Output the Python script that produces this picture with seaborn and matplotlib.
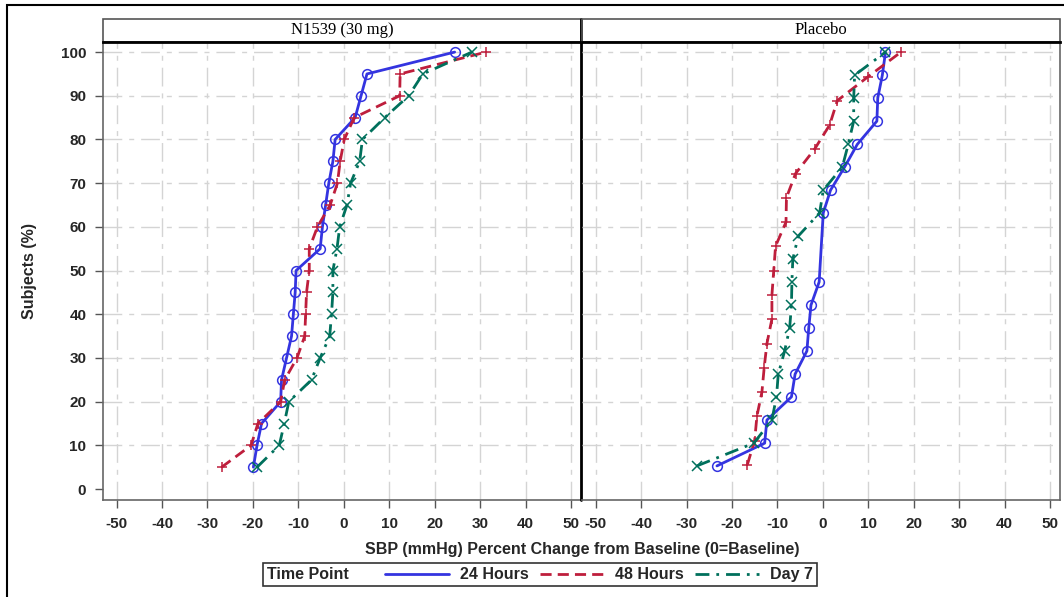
import numpy as np
import pandas as pd
import matplotlib
matplotlib.use("Agg")
import matplotlib.pyplot as plt
from matplotlib.patches import Rectangle
from matplotlib.lines import Line2D
from matplotlib.offsetbox import HPacker
import seaborn as sns

# ---------------- data ----------------
panels = ["N1539 (30 mg)", "Placebo"]
time_points = ["24 Hours", "48 Hours", "Day 7"]

left_y = [5, 10, 15, 20, 25, 30, 35, 40, 45, 50, 55, 60, 65, 70, 75, 80, 85, 90, 95, 100]
left_24h = [-19.9, -19.1, -18.1, -13.9, -13.7, -12.6, -11.5, -11.1, -10.7, -10.5,
            -5.2, -4.7, -4.0, -3.3, -2.4, -1.9, 2.5, 3.8, 5.1, 24.4]
left_48h = [-26.9, -20.4, -18.9, -13.9, -13.0, -10.3, -8.6, -8.4, -8.2, -7.6,
            -7.6, -5.8, -3.0, -1.4, -0.8, 0.1, 2.3, 12.3, 12.4, 31.3]
left_d7 = [-19.1, -14.2, -13.1, -12.1, -7.1, -5.2, -3.1, -2.7, -2.4, -2.4,
           -1.5, -0.9, 0.7, 1.5, 3.5, 4.1, 9.0, 14.3, 17.4, 28.2]

right_24h_y = [5.3, 10.5, 15.8, 21.1, 26.3, 31.6, 36.8, 42.1, 47.4,
               63.2, 68.4, 73.7, 78.9, 84.2, 89.5, 94.7, 100]
right_24h = [-23.3, -12.8, -12.3, -6.9, -6.1, -3.5, -3.1, -2.6, -0.8,
             0.1, 1.7, 4.8, 7.6, 11.9, 12.1, 13.1, 13.8]
right_48h_y = [5.6, 11.1, 16.7, 22.2, 27.8, 33.3, 38.9, 44.4, 50.0,
               55.6, 61.1, 66.7, 72.2, 77.8, 83.3, 88.9, 94.4, 100]
right_48h = [-16.6, -15.0, -14.5, -13.4, -12.9, -12.3, -11.2, -11.2, -10.8,
             -10.4, -8.1, -8.0, -6.0, -1.8, 1.5, 3.2, 10.0, 17.2]
right_d7_y = [5.3, 10.5, 15.8, 21.1, 26.3, 31.6, 36.8, 42.1, 47.4, 52.6,
              57.9, 63.2, 68.4, 73.7, 78.9, 84.2, 89.5, 94.7, 100]
right_d7 = [-27.7, -15.2, -11.2, -10.2, -9.8, -8.4, -7.3, -6.9, -6.8, -6.6,
            -5.4, -0.7, 0.1, 4.3, 5.6, 6.8, 6.8, 7.0, 13.8]

x_ticks = [-50, -40, -30, -20, -10, 0, 10, 20, 30, 40, 50]
y_ticks = [0, 10, 20, 30, 40, 50, 60, 70, 80, 90, 100]

# ---------------- style ----------------
sns.set_theme(style="white")
plt.rcParams["font.family"] = ["Liberation Sans", "DejaVu Sans"]

palette = {"24 Hours": "#3434E0", "48 Hours": "#BE1E3C", "Day 7": "#00705C"}
markers = {"24 Hours": "o", "48 Hours": "+", "Day 7": "x"}
dashes = {"24 Hours": None, "48 Hours": (4, 2.2), "Day 7": (5, 2.5, 1, 2.5)}


def make_df(series):
    frames = []
    for tp, xs, ys in series:
        frames.append(pd.DataFrame({"Change": xs, "Subjects": ys, "Time Point": tp}))
    return pd.concat(frames, ignore_index=True)


df_left = make_df([("24 Hours", left_24h, left_y),
                   ("48 Hours", left_48h, left_y),
                   ("Day 7", left_d7, left_y)])
df_right = make_df([("24 Hours", right_24h, right_24h_y),
                    ("48 Hours", right_48h, right_48h_y),
                    ("Day 7", right_d7, right_d7_y)])

fig = plt.figure(figsize=(10.64, 5.97), dpi=100)
ax_b, ax_h = 0.1625, 0.7671
ax1 = fig.add_axes([0.0968, ax_b, 0.4492, ax_h])
ax2 = fig.add_axes([0.5470, ax_b, 0.4492, ax_h])
ax2.patch.set_alpha(0)

tick_font = dict(family=["Liberation Sans", "DejaVu Sans"], weight="bold", size=11)
grid_kw = dict(color="#D4D4D4", lw=1.0, ls=(0, (13.5, 5, 3.6, 5)), zorder=0)

for ax, df, title in [(ax1, df_left, panels[0]), (ax2, df_right, panels[1])]:
    for tp in time_points:
        sub = df[df["Time Point"] == tp]
        ls = "-" if dashes[tp] is None else (0, dashes[tp])
        sns.lineplot(data=sub, x="Change", y="Subjects", color=palette[tp],
                     marker=markers[tp], linestyle=ls, sort=False, estimator=None,
                     linewidth=2.0, markersize=7, mfc="none", mec=palette[tp],
                     mew=1.1, ax=ax, label=tp, legend=False)
    ax.set_xlim(-53, 52.2)
    ax.set_ylim(-2.5, 102.3)
    ax.set_xticks(x_ticks)
    ax.set_xticklabels([str(v) for v in x_ticks], fontdict=tick_font)
    ax.set_yticks(y_ticks)
    for v in x_ticks:
        ax.axvline(v, **grid_kw)
    for v in y_ticks[1:]:
        ax.axhline(v, **grid_kw)
    ax.set_xlabel("")
    ax.set_ylabel("")
    ax.tick_params(axis="both", direction="out", length=6, width=1, color="#555555",
                   bottom=True, left=(ax is ax1), pad=6)
    for s in ["left", "bottom", "right"]:
        ax.spines[s].set_color("#666666")
        ax.spines[s].set_linewidth(1.2)
    ax.spines["top"].set_color("black")
    ax.spines["top"].set_linewidth(2)
    # header strip
    ax.add_patch(Rectangle((0, 1), 1, 0.0502, transform=ax.transAxes, fill=False,
                           ec="#555555", lw=1.2, clip_on=False))
    ax.text(0.5, 1.026, title, transform=ax.transAxes, ha="center", va="center",
            family=["Liberation Serif", "DejaVu Serif"], fontsize=12, color="black")

ax1.set_yticklabels([str(v) for v in y_ticks], fontdict=tick_font)
ax2.set_yticklabels([])
ax1.spines["right"].set_visible(False)
ax2.spines["left"].set_visible(False)
# divider between panels, through header
ax1.plot([1.001, 1.001], [0, 1.0502], transform=ax1.transAxes, color="black", lw=2,
         clip_on=False, zorder=10)

fig.text(0.028, 0.546, "Subjects (%)", rotation=90, ha="center", va="center",
         fontsize=11.5, fontweight="bold")
fig.text(0.547, 0.079, "SBP (mmHg) Percent Change from Baseline (0=Baseline)",
         ha="center", va="center", fontsize=11.5, fontweight="bold")

# outer frame
fig.patches.append(Rectangle((7 / 1064, -0.2), 1.3, 1.2 - 5 / 597, transform=fig.transFigure,
                             fill=False, ec="black", lw=1.5))

handles = [Line2D([], [], color=palette[tp], lw=2,
                  ls="-" if dashes[tp] is None else (0, dashes[tp])) for tp in time_points]
leg = fig.legend(handles, time_points, loc="center", bbox_to_anchor=(0.5075, 0.037),
                 ncol=3, title="Time Point", frameon=True, fancybox=False,
                 edgecolor="black", handlelength=4.0, handletextpad=0.7,
                 columnspacing=0.7, borderpad=0.25, prop=dict(weight="bold", size=11.5))
leg.get_frame().set_linewidth(1.2)
leg.get_title().set_fontweight("bold")
leg.get_title().set_fontsize(11.5)
try:
    box = leg._legend_box
    box.__class__ = HPacker
    box.align = "center"
    box.sep = 26
except Exception:
    pass

fig.savefig("out.png", dpi=100)
